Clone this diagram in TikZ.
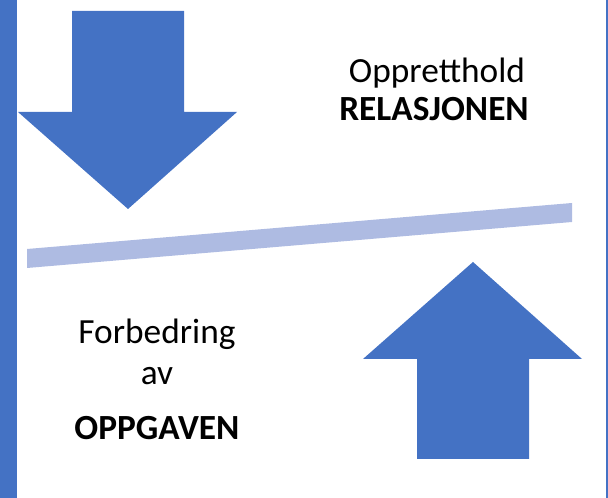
\documentclass[tikz,border=0pt]{standalone}
\usepackage{fontspec}
\setmainfont{Carlito}
\definecolor{arrowblue}{RGB}{68,114,196}
\definecolor{barblue}{RGB}{174,187,226}
\begin{document}
\begin{tikzpicture}[x=0.75pt,y=0.75pt,yscale=-1,xscale=1,
    blockarrow/.style={fill=arrowblue,draw=none},
    caption/.style={anchor=base,inner sep=0pt,font=\fontsize{26.5pt}{30pt}\selectfont}]
        \useasboundingbox (0,0) rectangle (608,498);

        %Shape: Rectangle [left edge]
        \fill [arrowblue] (0,0) rectangle (17,498) ;
        %Shape: Rectangle [right edge]
        \fill [arrowblue] (606,0) rectangle (608,498) ;

        %Shape: Down Arrow
        \path [blockarrow] (72,11) -- (184,11) -- (184,112) -- (237,112) -- (128,209) -- (18,112) -- (72,112) -- cycle ;
        %Shape: Up Arrow
        \path [blockarrow] (473,262) -- (582,359) -- (529,359) -- (529,459) -- (417,459) -- (417,359) -- (363,359) -- cycle ;
        %Shape: Balance Bar
        \fill [barblue] (27,249) -- (572,203) -- (572,222) -- (27,268) -- cycle ;

        % Text Node
        \node [caption] (keep) at (437,83) {Oppretthold};
        % Text Node
        \node [caption,font=\fontsize{26.5pt}{30pt}\selectfont\bfseries] (relation) at (434,120.5) {RELASJONEN};
        % Text Node
        \node [caption] (improve) at (157,344) {Forbedring};
        % Text Node
        \node [caption] (of) at (157,385) {av};
        % Text Node
        \node [caption,font=\fontsize{26.5pt}{30pt}\selectfont\bfseries] (task) at (157,440) {OPPGAVEN};
\end{tikzpicture}
\end{document}
